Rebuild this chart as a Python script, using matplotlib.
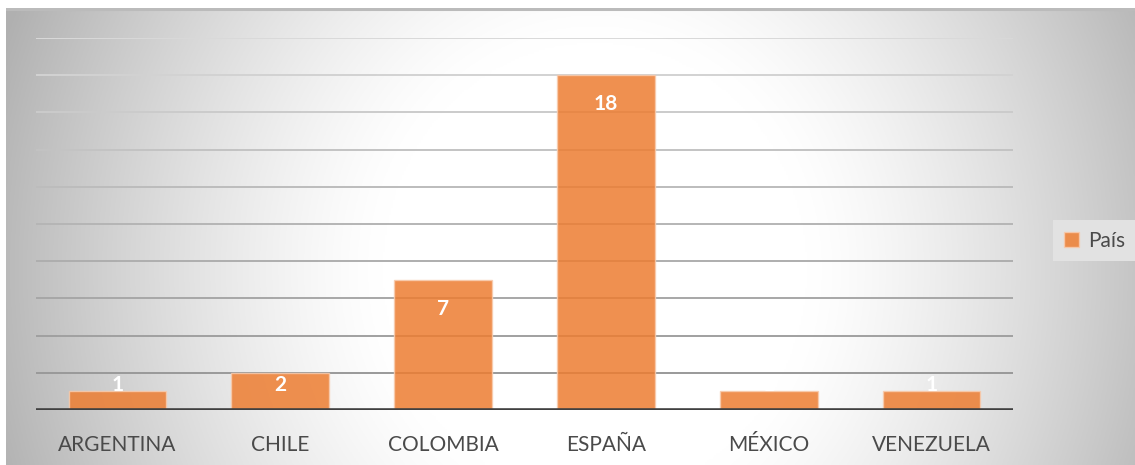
import numpy as np
import matplotlib
matplotlib.use("Agg")
import matplotlib.pyplot as plt
from matplotlib.patches import Patch

categories = ["ARGENTINA", "CHILE", "COLOMBIA", "ESPAÑA", "MÉXICO", "VENEZUELA"]
values = [1, 2, 7, 18, 1, 1]
series_name = "País"
yticks = list(range(0, 21, 2))

W, H = 1135, 465
fig = plt.figure(figsize=(W / 100, H / 100), dpi=100)
fig.patch.set_facecolor("white")

# gradient background of chart area
x0, ytop = 6, 8
bg = fig.add_axes([x0 / W, 0, 1 - x0 / W, 1 - ytop / H], zorder=-10)
gx = np.linspace(x0, W, 600)
gy = np.linspace(ytop, H, 250)
GX, GY = np.meshgrid(gx, gy)
d = np.sqrt(((GX - 595) / 560) ** 2 + ((GY - 270) / 600) ** 2)
t = np.clip((d - 0.38) / 0.62, 0, 1.2)
val = (255 - 62 * t ** 1.3) / 255
img = np.dstack([val, val, val])
bg.imshow(img, aspect="auto", extent=[0, 1, 0, 1], origin="upper")
bg.plot([0, 1], [0.997, 0.997], color="#BBBBBB", lw=2.2, transform=bg.transAxes)
bg.set_axis_off()

left, right = 36 / W, 1013 / W
bottom, top = 1 - 410 / H, 1 - 38 / H
ax = fig.add_axes([left, bottom, right - left, top - bottom])
ax.set_facecolor("none")
for s in ax.spines.values():
    s.set_visible(False)

x = np.arange(len(categories))
ax.set_xlim(-0.5, len(categories) - 0.5)
ax.set_ylim(0, 20)

# gridlines with vertical colour gradient
grid_vals = yticks[1:]
for i, g in enumerate(grid_vals):
    t = i / (len(grid_vals) - 1)
    c = 0.60 + (0.85 - 0.60) * t
    ax.axhline(g, color=(c, c, c), lw=1.4, zorder=1)

bars = ax.bar(x, values, width=0.6, color="#ED7D31", alpha=0.85, edgecolor="#F8CBAD",
              linewidth=1.0, zorder=2, label=series_name)
ax.axhline(0, color="#404040", lw=2.6, zorder=3)

for xi, v in zip(x, values):
    ax.text(xi, max(v - 1.55, 1.35), str(v), ha="center", va="center",
            color="white", fontsize=15, fontweight="bold", family="Lato", zorder=4)

ax.set_yticks([])
ax.set_xticks(x)
ax.set_xticklabels(categories, fontsize=15, family="Lato", color="#4A4A4A")
ax.tick_params(axis="x", length=0, pad=18)

leg = fig.legend(handles=[Patch(facecolor="#ED7D31", alpha=0.85, edgecolor="#F8CBAD", label=series_name)],
                 loc="center left", bbox_to_anchor=(1043 / W, 1 - 240.5 / H),
                 prop={"family": "Lato", "size": 15}, frameon=True, fancybox=False,
                 handlelength=0.75, handleheight=0.75, handletextpad=0.4,
                 borderpad=0.5, labelcolor="#4A4A4A")
leg.get_frame().set_facecolor("#E2E2E2")
leg.get_frame().set_edgecolor("none")
leg.get_frame().set_alpha(1)

fig.savefig("out.png", dpi=100)
